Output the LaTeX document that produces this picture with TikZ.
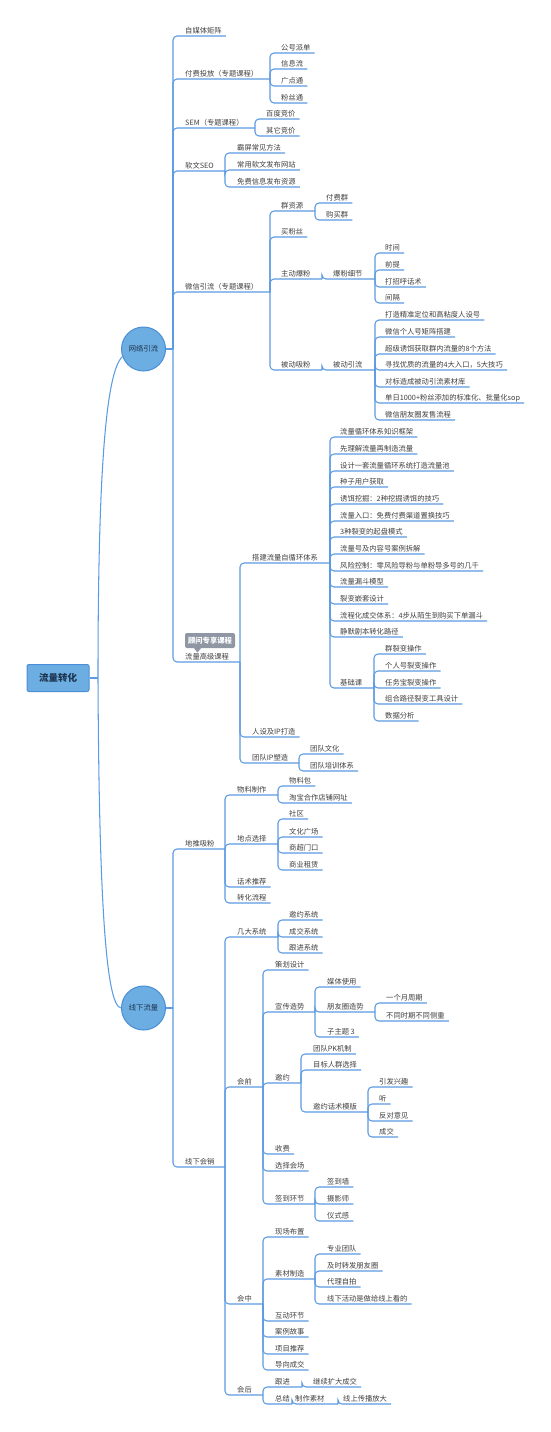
\documentclass[tikz,border=0pt]{standalone}
\usepackage{fontspec}
\setmainfont{Noto Sans CJK SC}
\definecolor{lnc}{HTML}{5B9BE3}
\definecolor{txc}{HTML}{404040}
\definecolor{fillc}{HTML}{6CAEE2}
\definecolor{bordc}{HTML}{4A8ED8}
\definecolor{tagc}{HTML}{8F97A4}
\definecolor{hdc}{HTML}{1E3550}
\newcommand\tleaf[5]{%
  \node[txt, anchor=base west] (#2) at (#3,#4-2.6) {#5};
  \coordinate (#2-b) at (#3,#4);
  \coordinate (#2-r) at ([xshift=4pt]#2.east);
  \coordinate (#2-e) at (#2-r |- #2-b);
  \draw[link] (#1-e) |- (#2-e);}
\newcommand\tbr[6]{%
  \node[txt, anchor=base west] (#2) at (#3,#4-2.6) {#6};
  \coordinate (#2-e) at (#5,#4);
  \draw[link] (#1-e) |- (#2-e);}
\begin{document}
\begin{tikzpicture}[x=1pt,y=-1pt,
  txt/.style={font=\fontsize{7.3}{8}\selectfont, text=txc, inner sep=0pt},
  link/.style={draw=lnc, line width=1.05pt, rounded corners=4pt},
  curv/.style={draw=lnc, line width=1.05pt},
  hub/.style={circle, draw=bordc, fill=fillc, line width=1pt, minimum size=44pt, inner sep=0pt, font=\fontsize{7.3}{8}\selectfont, text=hdc},
]
\useasboundingbox (0,0) rectangle (550,1432);
\fill[white] (0,0) rectangle (550,1432);

% root
\node[draw=bordc, fill=fillc, line width=1pt, rounded corners=2pt, minimum width=62pt, minimum height=27pt, inner sep=0pt, font=\fontsize{9.5}{10}\selectfont\bfseries, text=hdc] (root) at (58,678) {流量转化};
\coordinate (root-e) at (98,678);
\draw[curv] (root.east) -- (root-e);

\node[hub] (c1) at (143.5,349) {网络引流};
\node[hub] (c2) at (143.5,1008) {线下流量};
\draw[curv] (root-e) .. controls (98,470) and (106,372) .. (c1.200);
\draw[curv] (root-e) .. controls (99,900) and (106,1006) .. (c2.west);
\coordinate (c1-e) at (173,349);
\coordinate (c2-e) at (173,1008);
\draw[curv] (c1.east) -- (c1-e);
\draw[curv] (c2.east) -- (c2-e);

% ---------- 网络引流
\tleaf{c1}{a1}{185}{36}{自媒体矩阵}
\tbr{c1}{a2}{185}{79}{270}{付费投放（专题课程）}
\tleaf{a2}{a21}{281}{53}{公号派单}
\tleaf{a2}{a22}{281}{69}{信息流}
\tleaf{a2}{a23}{281}{86}{广点通}
\tleaf{a2}{a24}{281}{103}{粉丝通}
\tbr{c1}{a3}{185}{128}{255}{SEM（专题课程）}
\tleaf{a3}{a31}{266}{119}{百度竞价}
\tleaf{a3}{a32}{266}{136}{其它竞价}
\tbr{c1}{a4}{185}{171}{225}{软文SEO}
\tleaf{a4}{a41}{237}{153}{霸屏常见方法}
\tleaf{a4}{a42}{237}{170}{常用软文发布网站}
\tleaf{a4}{a43}{237}{187}{免费信息发布资源}
\tbr{c1}{a5}{185}{292}{270}{微信引流（专题课程）}
\tbr{a5}{a51}{281}{211}{315}{群资源}
\tleaf{a51}{a511}{326}{203}{付费群}
\tleaf{a51}{a512}{326}{220}{购买群}
\tleaf{a5}{a52}{281}{237}{买粉丝}
\tbr{a5}{a53}{281}{279}{322}{主动爆粉}
\tbr{a53}{a531}{333}{279}{375}{爆粉细节}
\tleaf{a531}{a5311}{385}{253}{时间}
\tleaf{a531}{a5312}{385}{270}{前提}
\tleaf{a531}{a5313}{385}{287}{打招呼话术}
\tleaf{a531}{a5314}{385}{303}{间隔}
\tbr{a5}{a54}{281}{370}{322}{被动吸粉}
\tbr{a54}{a541}{333}{370}{375}{被动引流}
\tleaf{a541}{a5411}{385}{320}{打造精准定位和高粘度人设号}
\tleaf{a541}{a5412}{385}{337}{微信个人号矩阵搭建}
\tleaf{a541}{a5413}{385}{354}{超级诱饵获取群内流量的8个方法}
\tleaf{a541}{a5414}{385}{370}{寻找优质的流量的4大入口，5大技巧}
\tleaf{a541}{a5415}{385}{387}{对标造成被动引流素材库}
\tleaf{a541}{a5416}{385}{403}{单日1000+粉丝添加的标准化、批量化sop}
\tleaf{a541}{a5417}{385}{420}{微信朋友圈发售流程}
\tbr{c1}{a6}{185}{662}{240}{流量高级课程}
\node[fill=tagc, rounded corners=2pt, text=white, font=\fontsize{7.3}{8}\selectfont\bfseries, minimum width=50pt, minimum height=15pt, inner sep=0pt] (tag) at (210,640.5) {顾问专享课程};
\fill[tagc] (193.5,647.5) -- (201.5,647.5) -- (197.5,652.5) -- cycle;
\tbr{a6}{a61}{252}{563}{330}{搭建流量自循环体系}
\tleaf{a61}{a6101}{340}{437}{流量循环体系知识框架}
\tleaf{a61}{a6102}{340}{454}{先理解流量再制造流量}
\tleaf{a61}{a6103}{340}{471}{设计一套流量循环系统打造流量池}
\tleaf{a61}{a6104}{340}{487}{种子用户获取}
\tleaf{a61}{a6105}{340}{504}{诱饵挖掘：2种挖掘诱饵的技巧}
\tleaf{a61}{a6106}{340}{521}{流量入口：免费付费渠道置换技巧}
\tleaf{a61}{a6107}{340}{537}{3种裂变的起盘模式}
\tleaf{a61}{a6108}{340}{554}{流量号及内容号案例拆解}
\tleaf{a61}{a6109}{340}{571}{风险控制：零风险导粉与单粉导多号的几千}
\tleaf{a61}{a6110}{340}{587}{流量漏斗模型}
\tleaf{a61}{a6111}{340}{604}{裂变嵌套设计}
\tleaf{a61}{a6112}{340}{621}{流程化成交体系：4步从陌生到购买下单漏斗}
\tleaf{a61}{a6113}{340}{637}{静默剧本转化路径}
\tbr{a61}{a6114}{340}{688}{374}{基础课}
\tleaf{a6114}{a61141}{385}{654}{群裂变操作}
\tleaf{a6114}{a61142}{385}{671}{个人号裂变操作}
\tleaf{a6114}{a61143}{385}{688}{任务宝裂变操作}
\tleaf{a6114}{a61144}{385}{704}{组合路径裂变工具设计}
\tleaf{a6114}{a61145}{385}{721}{数据分析}
\tleaf{a6}{a62}{252}{737}{人设及IP打造}
\tbr{a6}{a63}{252}{763}{299}{团队IP塑造}
\tleaf{a63}{a631}{310}{754}{团队文化}
\tleaf{a63}{a632}{310}{771}{团队培训体系}

% ---------- 线下流量
\tbr{c2}{b1}{185}{849}{225}{地推吸粉}
\tbr{b1}{b11}{237}{795}{278}{物料制作}
\tleaf{b11}{b111}{289}{786}{物料包}
\tleaf{b11}{b112}{289}{803}{淘宝合作店铺网址}
\tbr{b1}{b12}{237}{844}{278}{地点选择}
\tleaf{b12}{b121}{289}{819}{社区}
\tleaf{b12}{b122}{289}{837}{文化广场}
\tleaf{b12}{b123}{289}{853}{商超门口}
\tleaf{b12}{b124}{289}{870}{商业租赁}
\tleaf{b1}{b13}{237}{887}{话术推荐}
\tleaf{b1}{b14}{237}{903}{转化流程}
\tbr{c2}{b2}{185}{1167}{225}{线下会销}
\tbr{b2}{b21}{237}{937}{278}{几大系统}
\tleaf{b21}{b211}{289}{920}{邀约系统}
\tleaf{b21}{b212}{289}{937}{成交系统}
\tleaf{b21}{b213}{289}{953}{跟进系统}
\tbr{b2}{b22}{237}{1087}{263}{会前}
\tleaf{b22}{b221}{275}{970}{策划设计}
\tbr{b22}{b222}{275}{1012}{315}{宣传造势}
\tleaf{b222}{b2221}{327}{987}{媒体使用}
\tbr{b222}{b2222}{327}{1012}{375}{朋友圈造势}
\tleaf{b2222}{b22221}{386}{1003}{一个月周期}
\tleaf{b2222}{b22222}{386}{1021}{不同时期不同侧重}
\tleaf{b222}{b2223}{327}{1037}{子主题 3}
\tbr{b22}{b223}{275}{1083}{301}{邀约}
\tleaf{b223}{b2231}{313}{1054}{团队PK机制}
\tleaf{b223}{b2232}{313}{1070}{目标人群选择}
\tbr{b223}{b2233}{313}{1112}{368}{邀约话术模版}
\tleaf{b2233}{b22331}{379}{1087}{引发兴趣}
\tleaf{b2233}{b22332}{379}{1104}{听}
\tleaf{b2233}{b22333}{379}{1121}{反对意见}
\tleaf{b2233}{b22334}{379}{1137}{成交}
\tleaf{b22}{b224}{275}{1154}{收费}
\tleaf{b22}{b225}{275}{1171}{选择会场}
\tbr{b22}{b226}{275}{1204}{315}{签到环节}
\tleaf{b226}{b2261}{327}{1187}{签到墙}
\tleaf{b226}{b2262}{327}{1204}{摄影师}
\tleaf{b226}{b2263}{327}{1221}{仪式感}
\tbr{b2}{b23}{237}{1304}{263}{会中}
\tleaf{b23}{b231}{275}{1237}{现场布置}
\tbr{b23}{b232}{275}{1279}{315}{素材制造}
\tleaf{b232}{b2321}{327}{1254}{专业团队}
\tleaf{b232}{b2322}{327}{1271}{及时转发朋友圈}
\tleaf{b232}{b2323}{327}{1287}{代理自拍}
\tleaf{b232}{b2324}{327}{1304}{线下活动是做给线上看的}
\tleaf{b23}{b233}{275}{1321}{互动环节}
\tleaf{b23}{b234}{275}{1337}{案例故事}
\tleaf{b23}{b235}{275}{1354}{项目推荐}
\tleaf{b23}{b236}{275}{1370}{导向成交}
\tbr{b2}{b24}{237}{1395}{263}{会后}
\tbr{b24}{b241}{275}{1387}{302}{跟进}
\tleaf{b241}{b2411}{313}{1387}{继续扩大成交}
\tbr{b24}{b242}{275}{1404}{292}{总结}
\tbr{b242}{b2421}{295}{1404}{338}{制作素材}
\tleaf{b2421}{b24211}{343}{1404}{线上传播放大}
\end{tikzpicture}
\end{document}
